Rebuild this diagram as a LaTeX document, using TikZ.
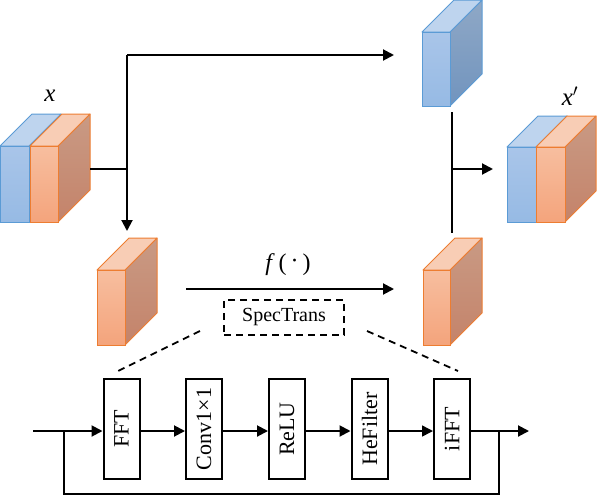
\documentclass[tikz,border=0pt]{standalone}
\usepackage{fontspec}
\setmainfont{Liberation Serif}
\usetikzlibrary{arrows.meta}
\definecolor{bfA}{HTML}{A9C5E9}\definecolor{bfB}{HTML}{96BAE4}
\definecolor{btop}{HTML}{BED4EE}\definecolor{bsA}{HTML}{8FA8C6}\definecolor{bsB}{HTML}{7194BE}
\definecolor{bedge}{HTML}{5B9BD5}
\definecolor{ofA}{HTML}{F7BE9F}\definecolor{ofB}{HTML}{F4A47C}
\definecolor{otop}{HTML}{F8CDB5}\definecolor{osA}{HTML}{C99A84}\definecolor{osB}{HTML}{C4836A}
\definecolor{oedge}{HTML}{ED7D31}
% #1 x1, #2 y1, #3 x2, #4 y2, #5 depth, #6 prefix (b/o)
\newcommand\mycube[6]{%
  \shade[top color=#6sA,bottom color=#6sB,draw=#6edge,line width=1pt,line join=round]
    (#3,#2) -- ++(#5,-#5) -- (#3+#5,#4-#5) -- (#3,#4) -- cycle;
  \fill[#6top,draw=#6edge,line width=1pt,line join=round]
    (#1,#2) -- ++(#5,-#5) -- (#3+#5,#2-#5) -- (#3,#2) -- cycle;
  \shade[top color=#6fA,bottom color=#6fB,draw=#6edge,line width=1pt]
    (#1,#2) rectangle (#3,#4);
}
\newcommand\vtext[1]{\rotatebox{90}{#1}}
\tikzset{
  conn/.style={line width=2pt},
  arr/.style={line width=2pt,-{Triangle[length=11pt,width=11pt]}},
  blk/.style={draw,line width=2pt,minimum height=100pt,minimum width=36pt,
    inner sep=0pt,font=\fontsize{22}{22}\selectfont},
  dsh/.style={line width=1.8pt,dash pattern=on 7pt off 5pt},
}
\begin{document}
\begin{tikzpicture}[x=1pt,y=-1pt]
\useasboundingbox (0,0) rectangle (597,496);
% cubes
\mycube{0}{146}{29}{222}{32}{b}
\mycube{30}{146}{58}{222}{32}{o}
\mycube{422}{32}{450}{106}{32}{b}
\mycube{507}{147}{536}{222}{31}{b}
\mycube{536}{147}{565}{222}{31}{o}
\mycube{97}{270}{125}{345}{32}{o}
\mycube{423}{270}{450}{345}{32}{o}
\node[font=\fontsize{25}{26}\selectfont\itshape] (lx) at (50,96) {x};
\node[font=\fontsize{25}{26}\selectfont\itshape] (lxp) at (570,96) {x\/\upshape$'$};
% named points
\coordinate (xout) at (90,169);
\coordinate (br) at (127,169);
\coordinate (tl) at (127,55);
\coordinate (down) at (127,231);
\coordinate (topin) at (394,55);
\coordinate (fst) at (186,289);
\coordinate (fen) at (394,289);
\coordinate (vtop) at (452,112);
\coordinate (vbot) at (452,233);
\coordinate (vmid) at (452,169);
\coordinate (xpin) at (493,169);
\draw[conn] (xout) -- (br);
\draw[arr] (tl) -- (down);
\draw[arr] (tl) -- (topin);
\draw[arr] (fst) -- (fen);
\node[font=\fontsize{24}{26}\selectfont] (fl) at (288,265) {\textit{f}\,(\,\raisebox{0.25ex}{·}\,)};
\draw[conn] (vtop) -- (vbot);
\draw[arr] (vmid) -- (xpin);
% spectrans
\node[draw,dsh,minimum width=120pt,minimum height=35pt,inner sep=0pt,
  font=\fontsize{20}{22}\selectfont] (st) at (284,317.5) {SpecTrans};
% blocks
\node[blk] (fft) at (121.5,429) {\vtext{FFT}};
\node[blk] (conv) at (204,429) {\vtext{Conv1×1}};
\node[blk] (relu) at (287,429) {\vtext{ReLU}};
\node[blk] (hef) at (369.5,429) {\vtext{HeFilter}};
\node[blk] (ifft) at (452,429) {\vtext{iFFT}};
\coordinate (d1a) at (200,331); \coordinate (d1b) at (118,371);
\coordinate (d2a) at (367,331); \coordinate (d2b) at (458,371);
\draw[dsh] (d1a) -- (d1b);
\draw[dsh] (d2a) -- (d2b);
\coordinate (in) at (33,431);
\coordinate (fb1) at (64,431);
\coordinate (fb2) at (499,431);
\coordinate (out) at (529,431);
\draw[arr] (in) -- (fft.west |- in);
\draw[arr] (fft.east |- in) -- (conv.west |- in);
\draw[arr] (conv.east |- in) -- (relu.west |- in);
\draw[arr] (relu.east |- in) -- (hef.west |- in);
\draw[line width=1.5pt,-{Triangle[length=11pt,width=11pt]}] (hef.east |- in) -- (ifft.west |- in);
\draw[arr] (ifft.east |- in) -- (out);
\draw[conn] (fb1) -- (fb1 |- 0,494) -- (fb2 |- 0,494) -- (fb2);
\end{tikzpicture}
\end{document}
